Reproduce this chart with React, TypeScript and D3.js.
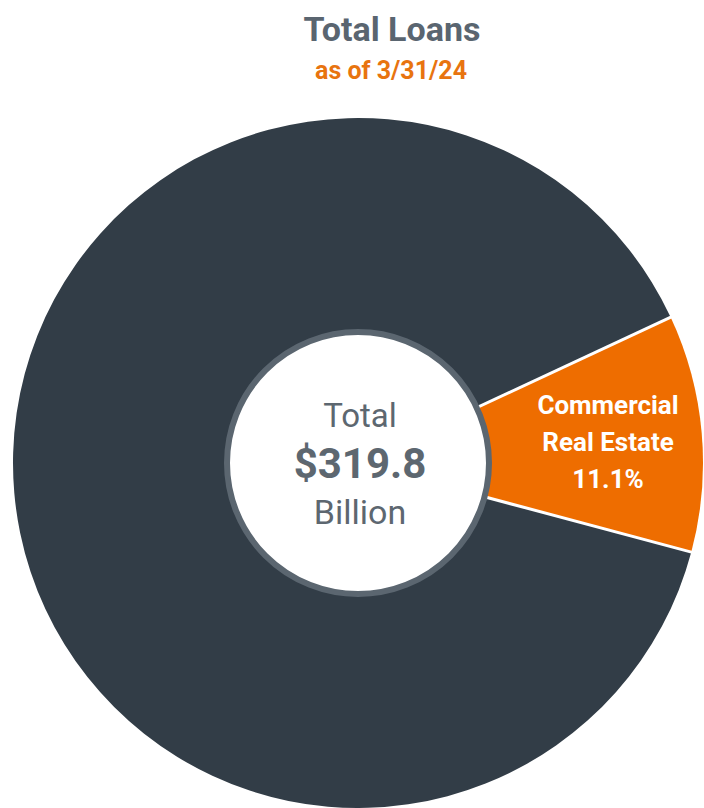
import { useEffect, useRef } from "react"
import * as d3 from "d3"

const categories = ["Commercial Real Estate", "Other Loans"]
const shares = [11.1, 88.9]
const sliceColors = ["#ee6d00", "#323d47"]
const sliceLabels = [["Commercial", "Real Estate", "11.1%"], []]
const titleText = "Total Loans"
const subtitleText = "as of 3/31/24"
const centerLines = ["Total", "$319.8", "Billion"]

export default function App() {
  const svgRef = useRef(null)

  useEffect(() => {
    if (!svgRef.current) return
    const svg = d3.select(svgRef.current)
    svg.selectAll("*").remove()

    const width = 704
    const height = 808
    const cx = 358
    const cy = 463
    const outerR = 345
    const innerR = 134

    const data = categories.map((c, i) => ({ name: c, value: shares[i], color: sliceColors[i], label: sliceLabels[i] }))

    // pie starts at ~65deg so the CRE slice sits on the right
    const pie = d3
      .pie<any>()
      .sort(null)
      .value((d) => d.value)
      .startAngle((65 * Math.PI) / 180)
      .endAngle((65 * Math.PI) / 180 + 2 * Math.PI)

    const arc = d3.arc<any>().innerRadius(0).outerRadius(outerR)

    const g = svg.append("g").attr("transform", `translate(${cx},${cy})`)

    const arcs = pie(data)

    g.selectAll("path.slice")
      .data(arcs)
      .enter()
      .append("path")
      .attr("class", "slice")
      .attr("d", arc)
      .attr("fill", (d) => d.data.color)

    // white separators between slices
    arcs.forEach((a) => {
      const ang = a.startAngle
      g.append("line")
        .attr("x1", 0)
        .attr("y1", 0)
        .attr("x2", Math.sin(ang) * (outerR + 2))
        .attr("y2", -Math.cos(ang) * (outerR + 2))
        .attr("stroke", "#ffffff")
        .attr("stroke-width", 3)
    })

    // center hole
    g.append("circle")
      .attr("r", innerR - 3)
      .attr("fill", "#ffffff")
      .attr("stroke", "#5b6670")
      .attr("stroke-width", 6)

    // slice label
    const labelArc = d3.arc<any>().innerRadius(250).outerRadius(250)
    arcs.forEach((a) => {
      if (!a.data.label.length) return
      const [lx, ly] = labelArc.centroid(a)
      const t = g
        .append("text")
        .attr("text-anchor", "middle")
        .attr("font-family", "Roboto, 'DejaVu Sans', sans-serif")
        .attr("font-weight", "bold")
        .attr("font-size", "26px")
        .attr("fill", "#ffffff")
      a.data.label.forEach((line, i) => {
        t.append("tspan")
          .attr("x", lx + 1)
          .attr("y", ly - 36 + i * 37)
          .attr("dy", "0.35em")
          .text(line)
      })
    })

    // center text
    const sizes = [33, 42, 34]
    const weights = ["normal", "bold", "normal"]
    const offsets = [-48, 0, 49]
    centerLines.forEach((line, i) => {
      g.append("text")
        .attr("x", 2)
        .attr("y", offsets[i])
        .attr("dy", "0.35em")
        .attr("text-anchor", "middle")
        .attr("font-family", "Roboto, 'DejaVu Sans', sans-serif")
        .attr("font-weight", weights[i])
        .attr("font-size", sizes[i] + "px")
        .attr("fill", "#5d6770")
        .text(line)
    })

    // title
    svg
      .append("text")
      .attr("x", 392)
      .attr("y", 29)
      .attr("dy", "0.35em")
      .attr("text-anchor", "middle")
      .attr("font-family", "Roboto, 'DejaVu Sans', sans-serif")
      .attr("font-weight", "bold")
      .attr("font-size", "34px")
      .attr("fill", "#5a6570")
      .text(titleText)

    svg
      .append("text")
      .attr("x", 391)
      .attr("y", 70)
      .attr("dy", "0.35em")
      .attr("text-anchor", "middle")
      .attr("font-family", "Roboto, 'DejaVu Sans', sans-serif")
      .attr("font-weight", "bold")
      .attr("font-size", "25px")
      .attr("fill", "#e8740f")
      .text(subtitleText)

    svg.attr("width", width).attr("height", height).attr("viewBox", [0, 0, width, height])
  }, [])

  return (
    <div style={{ position: "fixed", left: 0, top: 0, width: 704, height: 808, background: "#ffffff" }}>
      <svg ref={svgRef} style={{ display: "block" }}></svg>
    </div>
  )
}
